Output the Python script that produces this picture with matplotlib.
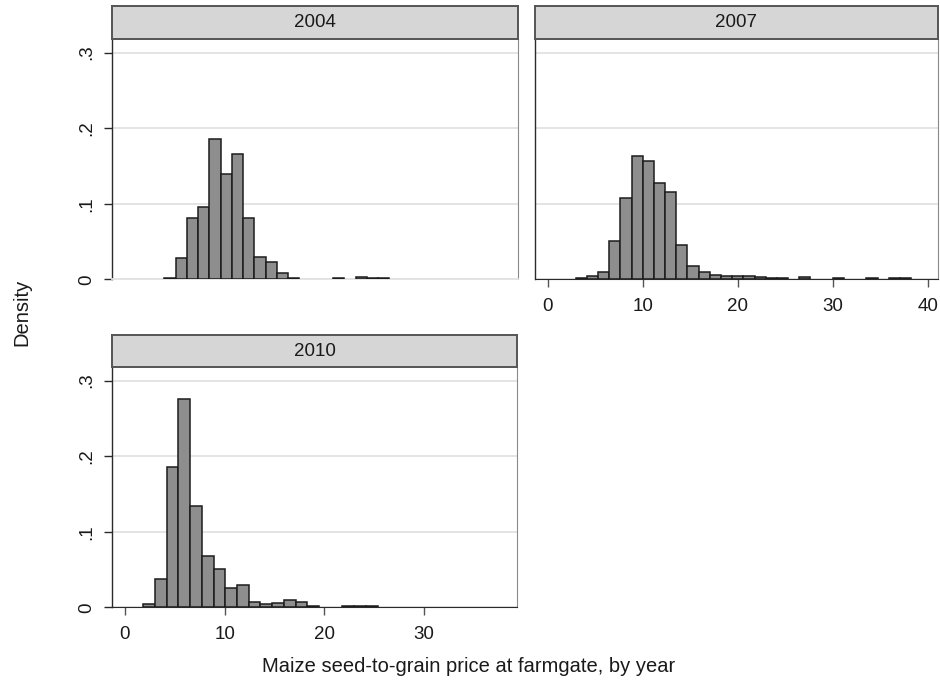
import matplotlib.pyplot as plt

plt.rcParams['font.family'] = ['Liberation Sans', 'DejaVu Sans']

years = ['2004', '2007', '2010']
bin_start = [3.94, 2.94, 1.84]
bin_width = [1.126, 1.177, 1.175]

density_2004 = [0.002, 0.028, 0.081, 0.096, 0.186, 0.139, 0.166, 0.081, 0.030, 0.023,
                0.008, 0.0015, 0, 0, 0, 0.0015, 0, 0.003, 0.0015, 0.0015]
density_2007 = [0.002, 0.005, 0.009, 0.051, 0.108, 0.163, 0.157, 0.128, 0.116, 0.046,
                0.017, 0.009, 0.006, 0.0045, 0.0045, 0.0045, 0.003, 0.002, 0.002, 0,
                0.003, 0, 0, 0.002, 0, 0, 0.002, 0, 0.002, 0.002]
density_2010 = [0.004, 0.038, 0.186, 0.275, 0.134, 0.068, 0.051, 0.026, 0.029, 0.0066,
                0.004, 0.006, 0.009, 0.0066, 0.002, 0, 0, 0.002, 0.002, 0.002]
densities = [density_2004, density_2007, density_2010]

yticks = [0, 0.1, 0.2, 0.3]
ytick_labels = ['0', '.1', '.2', '.3']

W, H = 940, 683


def px(l, t, r, b):
    return [l / W, (H - b) / H, (r - l) / W, (b - t) / H]


fig = plt.figure(figsize=(9.4, 6.83), dpi=100)

panels = [(112, 39, 518, 279.3), (535, 39, 938, 279.3), (112, 367, 517, 607.3)]
headers = [(112, 6, 518, 39), (535, 6, 938, 39), (112, 335, 517, 367)]
xlims = [(-1.30, 39.32), (-1.34, 41.08), (-1.30, 39.32)]
xticks = [[], [0, 10, 20, 30, 40], [0, 10, 20, 30]]

for i, year in enumerate(years):
    ax = fig.add_axes(px(*panels[i]))
    dens = densities[i]
    xs = [bin_start[i] + k * bin_width[i] for k in range(len(dens)) if dens[k] > 0]
    hs = [d for d in dens if d > 0]
    ax.bar(xs, hs, width=bin_width[i], align='edge', color='#8e8e8e',
           edgecolor='#1c1c1c', linewidth=1.1, zorder=3)
    ax.set_xlim(*xlims[i])
    ax.set_ylim(0, 0.318)
    ax.set_yticks(yticks)
    ax.yaxis.grid(True, color='#e2e2e2', linewidth=1.3)
    ax.set_axisbelow(True)

    ax.spines['top'].set_visible(False)
    ax.spines['right'].set_color('#8a8a8a')
    ax.spines['left'].set_color('#2a2a2a')
    ax.spines['left'].set_linewidth(1.0)

    if i == 1:
        ax.tick_params(axis='y', left=False, labelleft=False)
    else:
        ax.set_yticklabels(ytick_labels)
        ax.tick_params(axis='y', length=5.8, width=1.0, color='#2a2a2a',
                       labelsize=13.5, labelcolor='#1a1a1a', pad=6,
                       labelrotation=90)
        for lab in ax.get_yticklabels():
            lab.set_va('center')

    if xticks[i]:
        ax.set_xticks(xticks[i])
        ax.tick_params(axis='x', length=5.8, width=1.0, color='#555555',
                       labelsize=13.5, labelcolor='#1a1a1a', pad=8)
        ax.spines['bottom'].set_color('#2a2a2a')
    else:
        ax.set_xticks([])
        ax.spines['bottom'].set_color('#e2e2e2')
        ax.spines['bottom'].set_linewidth(1.3)

    hx = fig.add_axes(px(*headers[i]))
    hx.set_facecolor('#d6d6d6')
    hx.set_xticks([])
    hx.set_yticks([])
    for s in hx.spines.values():
        s.set_color('#555555')
        s.set_linewidth(1.4)
    hx.text(0.5, 0.5, year, ha='center', va='center', fontsize=13.5,
            color='#1a1a1a', transform=hx.transAxes)

fig.text(22 / W, (H - 312) / H, 'Density', rotation=90, ha='center', va='center',
         fontsize=14.5, color='#1a1a1a')
fig.text(469 / W, (H - 672) / H, 'Maize seed-to-grain price at farmgate, by year',
         ha='center', va='baseline', fontsize=14.5, color='#1a1a1a')

fig.savefig('out.png', dpi=100)
